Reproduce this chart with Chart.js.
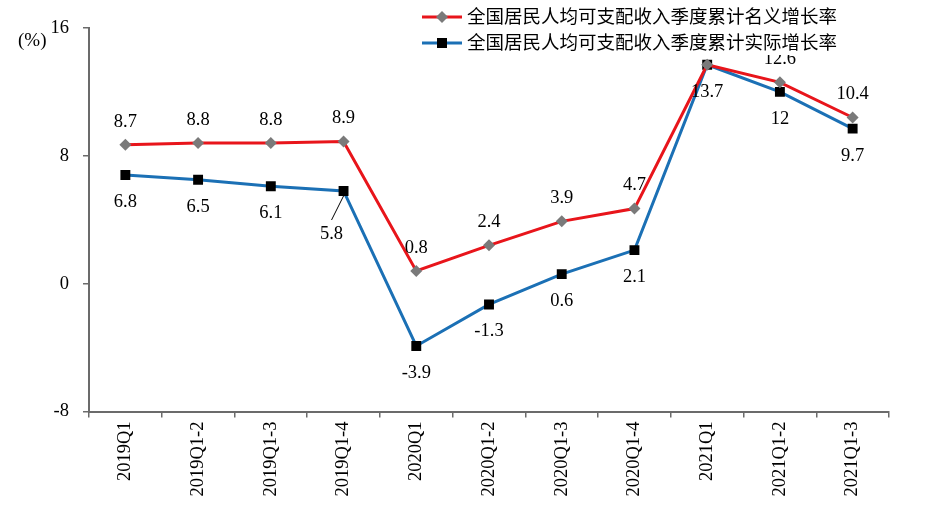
<!DOCTYPE html>
<html>
<head>
<meta charset="utf-8">
<script src="https://cdn.jsdelivr.net/npm/chart.js@4"></script>
<style>
html,body{margin:0;padding:0;background:#fff;}
#wrap{width:933px;height:517px;position:relative;}
</style>
</head>
<body>
<div id="wrap"><canvas id="c" width="933" height="517"></canvas></div>
<script>
const categories = ['2019Q1','2019Q1-2','2019Q1-3','2019Q1-4','2020Q1','2020Q1-2','2020Q1-3','2020Q1-4','2021Q1','2021Q1-2','2021Q1-3'];
const nominalGrowth = [8.7, 8.8, 8.8, 8.9, 0.8, 2.4, 3.9, 4.7, 13.7, 12.6, 10.4];
const realGrowth = [6.8, 6.5, 6.1, 5.8, -3.9, -1.3, 0.6, 2.1, 13.7, 12, 9.7];
const yTicks = [-8, 0, 8, 16];
const seriesNames = ['全国居民人均可支配收入季度累计名义增长率', '全国居民人均可支配收入季度累计实际增长率'];
const unitLabel = '(%)';

const FONT = '"Liberation Serif", "Times New Roman", "Noto Sans CJK SC", serif';
const RED = '#e8151b';
const BLUE = '#1b70b5';

const labelPlugin = {
  id: 'valueLabels',
  afterDatasetsDraw(chart) {
    const ctx = chart.ctx;
    ctx.save();
    ctx.font = '18.5px ' + FONT;
    ctx.fillStyle = '#000';
    ctx.textAlign = 'center';
    ctx.textBaseline = 'middle';
    chart.data.datasets.forEach((ds, di) => {
      const meta = chart.getDatasetMeta(di);
      meta.data.forEach((pt, i) => {
        const v = ds.data[i];
        let dx = 0, dy = di === 0 ? -23 : 27;
        if (di === 1 && i === 3) {
          dx = -12; dy = 43;
          ctx.strokeStyle = '#000';
          ctx.lineWidth = 1;
          ctx.beginPath();
          ctx.moveTo(pt.x, pt.y + 5);
          ctx.lineTo(pt.x + dx, pt.y + dy - 14);
          ctx.stroke();
        }
        ctx.fillText(String(v), pt.x + dx, pt.y + dy);
      });
    });
    ctx.restore();
  },
  afterDraw(chart) {
    const ctx = chart.ctx;
    ctx.save();
    // legend with white background
    ctx.fillStyle = '#fff';
    ctx.fillRect(416, 4, 432, 51);
    const rows = [
      {y: 17, color: RED, marker: 'diamond'},
      {y: 43, color: BLUE, marker: 'square'}
    ];
    rows.forEach((r, i) => {
      ctx.strokeStyle = r.color;
      ctx.lineWidth = 3;
      ctx.beginPath();
      ctx.moveTo(422, r.y);
      ctx.lineTo(462, r.y);
      ctx.stroke();
      if (r.marker === 'diamond') {
        ctx.fillStyle = '#7a7a7a';
        ctx.beginPath();
        ctx.moveTo(442, r.y - 6);
        ctx.lineTo(448, r.y);
        ctx.lineTo(442, r.y + 6);
        ctx.lineTo(436, r.y);
        ctx.closePath();
        ctx.fill();
      } else {
        ctx.fillStyle = '#000';
        ctx.fillRect(437, r.y - 5, 10, 10);
      }
      ctx.fillStyle = '#000';
      ctx.font = '18.5px ' + FONT;
      ctx.textAlign = 'left';
      ctx.textBaseline = 'middle';
      ctx.fillText(seriesNames[i], 467, r.y + 1);
    });
    // unit label
    ctx.font = '19px ' + FONT;
    ctx.textAlign = 'left';
    ctx.textBaseline = 'middle';
    ctx.fillText(unitLabel, 18, 41);
    ctx.restore();
  }
};

new Chart(document.getElementById('c'), {
  type: 'line',
  data: {
    labels: categories,
    datasets: [
      {
        label: seriesNames[0],
        data: nominalGrowth,
        borderColor: RED,
        borderWidth: 3,
        backgroundColor: '#7a7a7a',
        pointStyle: 'rectRot',
        pointRadius: 6,
        pointBorderWidth: 0,
        pointBackgroundColor: '#7a7a7a',
        tension: 0
      },
      {
        label: seriesNames[1],
        data: realGrowth,
        borderColor: BLUE,
        borderWidth: 3,
        backgroundColor: '#000',
        pointStyle: 'rect',
        pointRadius: 7,
        pointBorderWidth: 0,
        pointBackgroundColor: '#000',
        tension: 0
      }
    ]
  },
  options: {
    responsive: false,
    animation: false,
    devicePixelRatio: 1,
    layout: {padding: {top: 28, right: 44, left: 0, bottom: 0}},
    plugins: {legend: {display: false}, tooltip: {enabled: false}},
    scales: {
      x: {
        offset: true,
        grid: {offset: true, drawOnChartArea: false, drawTicks: true, tickLength: 6, color: '#6b6b6b', lineWidth: 1.5},
        border: {color: '#6b6b6b', width: 2},
        ticks: {
          color: '#000',
          font: {family: FONT, size: 18.5},
          minRotation: 90,
          maxRotation: 90,
          padding: 4,
          autoSkip: false
        },
        afterFit(scale) { scale.height = 105.5; }
      },
      y: {
        min: -8,
        max: 16,
        afterBuildTicks(scale) { scale.ticks = yTicks.map(v => ({value: v})); },
        grid: {drawOnChartArea: false, drawTicks: true, tickLength: 6, color: '#6b6b6b', lineWidth: 1.5},
        border: {color: '#6b6b6b', width: 2},
        ticks: {
          color: '#000',
          font: {family: FONT, size: 18.5},
          padding: 14
        },
        afterFit(scale) { scale.width = 89; }
      }
    }
  },
  plugins: [labelPlugin]
});
</script>
</body>
</html>
